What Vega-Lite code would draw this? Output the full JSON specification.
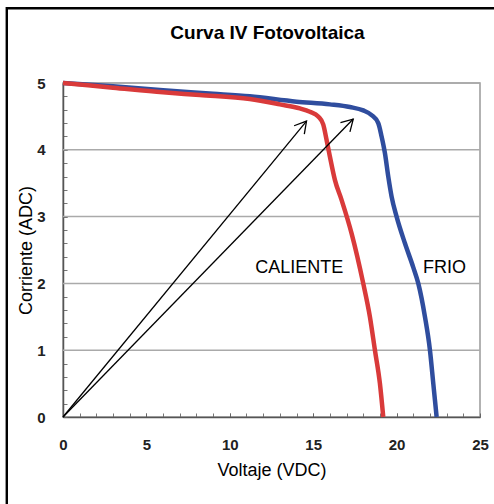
{
  "$schema": "https://vega.github.io/schema/vega-lite/v6.json",
  "width": 417,
  "height": 334,
  "autosize": "none",
  "padding": {"left": 63, "top": 83, "right": 14, "bottom": 87},
  "background": "white",
  "title": {"text": "Curva IV Fotovoltaica", "fontSize": 19, "font": "Liberation Sans", "fontWeight": "bold", "color": "#000", "offset": -36, "anchor": "middle", "dx": -4},
  "config": {
    "view": {"stroke": "#999", "strokeWidth": 1.5},
    "font": "Liberation Sans",
    "axis": {"labelOverlap": false, "labelFlush": false, "labelBound": false, "grid": false}
  },
  "resolve": {"axis": {"x": "independent", "y": "independent"}},
  "datasets": {
    "frame": [{"V": -3.37, "V2": 40, "I": 6.12, "I2": -4}],
    "grid": [{"I": 1}, {"I": 2}, {"I": 3}, {"I": 4}, {"I": 5}],
    "curves": [
      {"serie": "FRIO", "V": 0, "I": 5.0},
      {"serie": "FRIO", "V": 3, "I": 4.95},
      {"serie": "FRIO", "V": 6, "I": 4.89},
      {"serie": "FRIO", "V": 9, "I": 4.84},
      {"serie": "FRIO", "V": 11.2, "I": 4.8},
      {"serie": "FRIO", "V": 14, "I": 4.72},
      {"serie": "FRIO", "V": 16, "I": 4.68},
      {"serie": "FRIO", "V": 17.2, "I": 4.64},
      {"serie": "FRIO", "V": 18, "I": 4.59},
      {"serie": "FRIO", "V": 18.5, "I": 4.52},
      {"serie": "FRIO", "V": 18.9, "I": 4.4},
      {"serie": "FRIO", "V": 19.1, "I": 4.2},
      {"serie": "FRIO", "V": 19.3, "I": 3.95},
      {"serie": "FRIO", "V": 19.5, "I": 3.6},
      {"serie": "FRIO", "V": 19.7, "I": 3.3},
      {"serie": "FRIO", "V": 20.0, "I": 3.0},
      {"serie": "FRIO", "V": 20.5, "I": 2.6},
      {"serie": "FRIO", "V": 21.0, "I": 2.24},
      {"serie": "FRIO", "V": 21.3, "I": 2.0},
      {"serie": "FRIO", "V": 21.7, "I": 1.5},
      {"serie": "FRIO", "V": 22.0, "I": 1.0},
      {"serie": "FRIO", "V": 22.2, "I": 0.5},
      {"serie": "FRIO", "V": 22.4, "I": 0.0},
      {"serie": "CALIENTE", "V": 0, "I": 5.0},
      {"serie": "CALIENTE", "V": 3, "I": 4.93},
      {"serie": "CALIENTE", "V": 6, "I": 4.86},
      {"serie": "CALIENTE", "V": 8.2, "I": 4.82},
      {"serie": "CALIENTE", "V": 11.2, "I": 4.76},
      {"serie": "CALIENTE", "V": 13, "I": 4.68},
      {"serie": "CALIENTE", "V": 14.2, "I": 4.62},
      {"serie": "CALIENTE", "V": 14.8, "I": 4.57},
      {"serie": "CALIENTE", "V": 15.3, "I": 4.5},
      {"serie": "CALIENTE", "V": 15.6, "I": 4.38},
      {"serie": "CALIENTE", "V": 15.8, "I": 4.15},
      {"serie": "CALIENTE", "V": 16.0, "I": 3.9},
      {"serie": "CALIENTE", "V": 16.3, "I": 3.55},
      {"serie": "CALIENTE", "V": 16.7, "I": 3.25},
      {"serie": "CALIENTE", "V": 17.3, "I": 2.75},
      {"serie": "CALIENTE", "V": 18.0, "I": 2.0},
      {"serie": "CALIENTE", "V": 18.4, "I": 1.5},
      {"serie": "CALIENTE", "V": 18.7, "I": 1.0},
      {"serie": "CALIENTE", "V": 19.0, "I": 0.5},
      {"serie": "CALIENTE", "V": 19.2, "I": 0.0}
    ],
    "arrows": [
      {"arrow": "a", "V": 0, "I": 0},
      {"arrow": "a", "V": 14.6, "I": 4.43},
      {"arrow": "b", "V": 0, "I": 0},
      {"arrow": "b", "V": 17.4, "I": 4.46}
    ],
    "tips": [
      {"arrow": "a", "V": 14.6, "I": 4.43},
      {"arrow": "b", "V": 17.4, "I": 4.46}
    ],
    "labels": [
      {"serie": "CALIENTE", "V": 16.8, "I": 2.15},
      {"serie": "FRIO", "V": 21.58, "I": 2.15}
    ]
  },
  "layer": [
    {
      "data": {"name": "grid"},
      "mark": {"type": "rule", "stroke": "#aaa", "strokeWidth": 1.5},
      "encoding": {
        "y": {
          "field": "I", "type": "quantitative",
          "scale": {"domain": [0, 5], "nice": false, "zero": false},
          "axis": {
            "orient": "left", "title": null, "labels": false, "domain": false,
            "values": [0.2,0.4,0.6,0.8,1,1.2,1.4,1.6,1.8,2,2.2,2.4,2.6,2.8,3,3.2,3.4,3.6,3.8,4,4.2,4.4,4.6,4.8],
            "tickSize": -4, "tickColor": "#777", "tickWidth": 1
          }
        }
      }
    },
    {
      "data": {"name": "frame"},
      "mark": {"type": "rect", "fill": null, "fillOpacity": 0, "stroke": "#000", "strokeWidth": 2.4, "clip": false},
      "encoding": {
        "x": {
          "field": "V", "type": "quantitative",
          "scale": {"domain": [0, 25], "nice": false, "zero": false},
          "axis": {
            "orient": "bottom", "title": null, "labels": false, "domain": false,
            "values": [1,2,3,4,5,6,7,8,9,10,11,12,13,14,15,16,17,18,19,20,21,22,23,24],
            "tickSize": -4, "tickColor": "#777", "tickWidth": 1
          }
        },
        "x2": {"field": "V2"},
        "y": {"field": "I", "type": "quantitative", "axis": null},
        "y2": {"field": "I2"}
      }
    },
    {
      "data": {"name": "curves"},
      "mark": {"type": "line", "strokeWidth": 4.5, "strokeCap": "butt", "strokeJoin": "round", "interpolate": "monotone"},
      "encoding": {
        "x": {
          "field": "V", "type": "quantitative", "title": "Voltaje (VDC)",
          "scale": {"domain": [0, 25], "nice": false, "zero": false},
          "axis": {
            "orient": "bottom",
            "values": [0, 5, 10, 15, 20, 25], "format": "d",
            "tickSize": -4, "tickColor": "#666", "tickWidth": 1, "domainColor": "#555", "domainWidth": 1.5,
            "labelPadding": 24, "labelFontSize": 15, "labelFontWeight": "bold", "labelColor": "#222", "labelFont": "Liberation Sans",
            "titleFontSize": 18, "titleFontWeight": "normal", "titleColor": "#000", "titleFont": "Liberation Sans",
            "titlePadding": 9
          }
        },
        "y": {
          "field": "I", "type": "quantitative", "title": "Corriente (ADC)",
          "scale": {"domain": [0, 5], "nice": false, "zero": false},
          "axis": {
            "orient": "left",
            "values": [0, 1, 2, 3, 4, 5], "format": "d",
            "tickSize": -4, "tickColor": "#666", "tickWidth": 1, "domainColor": "#555", "domainWidth": 1.5,
            "labelPadding": 22, "labelFontSize": 15, "labelFontWeight": "bold", "labelColor": "#222", "labelFont": "Liberation Sans",
            "titleFontSize": 18, "titleFontWeight": "normal", "titleColor": "#000", "titleFont": "Liberation Sans",
            "titlePadding": 1
          }
        },
        "color": {
          "field": "serie", "type": "nominal",
          "scale": {"domain": ["CALIENTE", "FRIO"], "range": ["#d93a3a", "#2f4d9e"]},
          "legend": null
        }
      }
    },
    {
      "data": {"name": "arrows"},
      "mark": {"type": "line", "stroke": "#000", "strokeWidth": 1.3},
      "encoding": {
        "x": {"field": "V", "type": "quantitative", "axis": null},
        "y": {"field": "I", "type": "quantitative", "axis": null},
        "detail": {"field": "arrow", "type": "nominal"}
      }
    },
    {
      "data": {"name": "tips"},
      "transform": [{"filter": "datum.arrow === 'a'"}],
      "mark": {"type": "point", "shape": "M-0.5,0.87L0,0L0.5,0.87", "filled": false, "stroke": "#000", "strokeWidth": 1.3, "size": 700, "angle": 39.5, "opacity": 1},
      "encoding": {
        "x": {"field": "V", "type": "quantitative", "axis": null},
        "y": {"field": "I", "type": "quantitative", "axis": null}
      }
    },
    {
      "data": {"name": "tips"},
      "transform": [{"filter": "datum.arrow === 'b'"}],
      "mark": {"type": "point", "shape": "M-0.5,0.87L0,0L0.5,0.87", "filled": false, "stroke": "#000", "strokeWidth": 1.3, "size": 700, "angle": 44.3, "opacity": 1},
      "encoding": {
        "x": {"field": "V", "type": "quantitative", "axis": null},
        "y": {"field": "I", "type": "quantitative", "axis": null}
      }
    },
    {
      "data": {"name": "labels"},
      "transform": [{"filter": "datum.serie === 'CALIENTE'"}],
      "mark": {"type": "text", "fontSize": 18, "font": "Liberation Sans", "baseline": "alphabetic", "align": "right", "color": "#000"},
      "encoding": {
        "x": {"field": "V", "type": "quantitative", "axis": null},
        "y": {"field": "I", "type": "quantitative", "axis": null},
        "text": {"field": "serie", "type": "nominal"}
      }
    },
    {
      "data": {"name": "labels"},
      "transform": [{"filter": "datum.serie === 'FRIO'"}],
      "mark": {"type": "text", "fontSize": 18, "font": "Liberation Sans", "baseline": "alphabetic", "align": "left", "color": "#000"},
      "encoding": {
        "x": {"field": "V", "type": "quantitative", "axis": null},
        "y": {"field": "I", "type": "quantitative", "axis": null},
        "text": {"field": "serie", "type": "nominal"}
      }
    }
  ]
}
